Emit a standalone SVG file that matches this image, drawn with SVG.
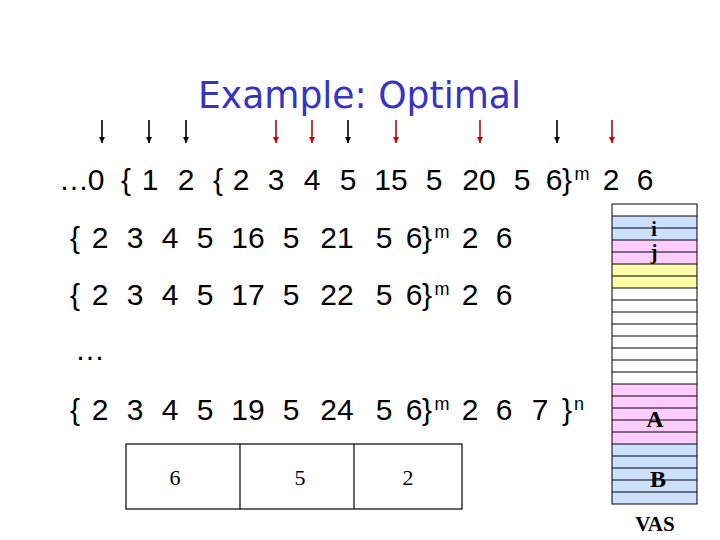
<svg xmlns="http://www.w3.org/2000/svg" width="720" height="540" viewBox="0 0 720 540">
<style>
.seq{font-family:"Liberation Sans",Arial,sans-serif;font-size:30px;fill:#000;text-anchor:middle}
.sup{font-size:18px}
.ser{font-family:"Liberation Serif","Times New Roman",serif;fill:#000;text-anchor:middle}
.title{font-family:"DejaVu Sans","Liberation Sans",sans-serif;font-size:38px;fill:#3535C0}
.vas{stroke:#000;stroke-width:1}
.blk{stroke:#000;stroke-width:1.6}
.red{stroke:#CC0000;stroke-width:1.6}
</style>
<defs>
<marker id="hb" viewBox="0 0 6 6" refX="6" refY="3" markerWidth="6" markerHeight="6" markerUnits="userSpaceOnUse" orient="auto"><path d="M0,0 L6,3 L0,6 z" fill="#000"/></marker>
<marker id="hr" viewBox="0 0 6 6" refX="6" refY="3" markerWidth="6" markerHeight="6" markerUnits="userSpaceOnUse" orient="auto"><path d="M0,0 L6,3 L0,6 z" fill="#CC0000"/></marker>
</defs>
<rect width="720" height="540" fill="#fff"/>
<g id="title"><text class="title" x="198" y="108" textLength="323" lengthAdjust="spacingAndGlyphs">Example: Optimal</text></g>
<g id="connectors">
<line class="blk" x1="102" y1="120" x2="102" y2="143" marker-end="url(#hb)"/>
<line class="blk" x1="149" y1="120" x2="149" y2="143" marker-end="url(#hb)"/>
<line class="blk" x1="186" y1="120" x2="186" y2="143" marker-end="url(#hb)"/>
<line class="red" x1="276" y1="120" x2="276" y2="143" marker-end="url(#hr)"/>
<line class="red" x1="312" y1="120" x2="312" y2="143" marker-end="url(#hr)"/>
<line class="blk" x1="348" y1="120" x2="348" y2="143" marker-end="url(#hb)"/>
<line class="red" x1="396" y1="120" x2="396" y2="143" marker-end="url(#hr)"/>
<line class="red" x1="480" y1="120" x2="480" y2="143" marker-end="url(#hr)"/>
<line class="blk" x1="557" y1="120" x2="557" y2="143" marker-end="url(#hb)"/>
<line class="red" x1="612" y1="120" x2="612" y2="143" marker-end="url(#hr)"/>
</g>
<g id="row1"><text class="seq" y="190"><tspan x="74">…</tspan><tspan x="96">0</tspan><tspan x="126">{</tspan><tspan x="150">1</tspan><tspan x="186">2</tspan><tspan x="218">{</tspan><tspan x="241">2</tspan><tspan x="276">3</tspan><tspan x="312">4</tspan><tspan x="348">5</tspan><tspan x="391">15</tspan><tspan x="434">5</tspan><tspan x="479">20</tspan><tspan x="522">5</tspan><tspan x="554">6</tspan><tspan x="567">}</tspan><tspan class="sup" x="582" y="180">m</tspan><tspan x="611" y="190">2</tspan><tspan x="645">6</tspan></text></g>
<g id="row2"><text class="seq" y="248"><tspan x="75">{</tspan><tspan x="100">2</tspan><tspan x="135">3</tspan><tspan x="170">4</tspan><tspan x="205">5</tspan><tspan x="248">16</tspan><tspan x="291">5</tspan><tspan x="337">21</tspan><tspan x="384">5</tspan><tspan x="414">6</tspan><tspan x="427">}</tspan><tspan class="sup" x="442" y="238">m</tspan><tspan x="470" y="248">2</tspan><tspan x="504">6</tspan></text></g>
<g id="row3"><text class="seq" y="305"><tspan x="75">{</tspan><tspan x="100">2</tspan><tspan x="135">3</tspan><tspan x="170">4</tspan><tspan x="205">5</tspan><tspan x="248">17</tspan><tspan x="291">5</tspan><tspan x="337">22</tspan><tspan x="384">5</tspan><tspan x="414">6</tspan><tspan x="427">}</tspan><tspan class="sup" x="442" y="295">m</tspan><tspan x="470" y="305">2</tspan><tspan x="504">6</tspan></text></g>
<g id="dots"><text class="seq" x="90" y="360">…</text></g>
<g id="row4"><text class="seq" y="420"><tspan x="75">{</tspan><tspan x="100">2</tspan><tspan x="135">3</tspan><tspan x="170">4</tspan><tspan x="205">5</tspan><tspan x="248">19</tspan><tspan x="291">5</tspan><tspan x="337">24</tspan><tspan x="384">5</tspan><tspan x="414">6</tspan><tspan x="427">}</tspan><tspan class="sup" x="442" y="410">m</tspan><tspan x="470" y="420">2</tspan><tspan x="504">6</tspan><tspan x="540">7</tspan><tspan x="567">}</tspan><tspan class="sup" x="579" y="410">n</tspan></text></g>
<g id="buffer">
<rect x="126" y="444" width="336" height="65" fill="#fff" stroke="#000" stroke-width="1.2"/>
<line x1="240" y1="444" x2="240" y2="509" stroke="#000" stroke-width="1.2"/>
<line x1="354" y1="444" x2="354" y2="509" stroke="#000" stroke-width="1.2"/>
<text class="ser" x="175" y="485" font-size="22">6</text>
<text class="ser" x="300" y="485" font-size="22">5</text>
<text class="ser" x="408" y="485" font-size="22">2</text>
</g>
<g id="vas">
<rect x="612" y="216" width="85" height="24" fill="#CCE0FF"/>
<rect x="612" y="240" width="85" height="24" fill="#FFCCFF"/>
<rect x="612" y="264" width="85" height="24" fill="#FFFFAA"/>
<rect x="612" y="384" width="85" height="60" fill="#FFCCFF"/>
<rect x="612" y="444" width="85" height="60" fill="#CCE0FF"/>
<g class="vas">
<line x1="612" y1="216" x2="697" y2="216"/><line x1="612" y1="228" x2="697" y2="228"/><line x1="612" y1="240" x2="697" y2="240"/><line x1="612" y1="252" x2="697" y2="252"/><line x1="612" y1="264" x2="697" y2="264"/><line x1="612" y1="276" x2="697" y2="276"/><line x1="612" y1="288" x2="697" y2="288"/><line x1="612" y1="300" x2="697" y2="300"/><line x1="612" y1="312" x2="697" y2="312"/><line x1="612" y1="324" x2="697" y2="324"/><line x1="612" y1="336" x2="697" y2="336"/><line x1="612" y1="348" x2="697" y2="348"/><line x1="612" y1="360" x2="697" y2="360"/><line x1="612" y1="372" x2="697" y2="372"/><line x1="612" y1="384" x2="697" y2="384"/><line x1="612" y1="396" x2="697" y2="396"/><line x1="612" y1="408" x2="697" y2="408"/><line x1="612" y1="420" x2="697" y2="420"/><line x1="612" y1="432" x2="697" y2="432"/><line x1="612" y1="444" x2="697" y2="444"/><line x1="612" y1="456" x2="697" y2="456"/><line x1="612" y1="468" x2="697" y2="468"/><line x1="612" y1="480" x2="697" y2="480"/><line x1="612" y1="492" x2="697" y2="492"/>
<rect x="612" y="204" width="85" height="300" fill="none"/>
</g>
<text class="ser" x="654" y="236" font-size="20" font-weight="bold">i</text>
<text class="ser" x="654" y="259" font-size="20" font-weight="bold">j</text>
<text class="ser" x="655" y="427" font-size="24" font-weight="bold">A</text>
<text class="ser" x="658" y="487" font-size="24" font-weight="bold">B</text>
<text class="ser" x="655" y="531" font-size="21" font-weight="bold">VAS</text>
</g>
</svg>
